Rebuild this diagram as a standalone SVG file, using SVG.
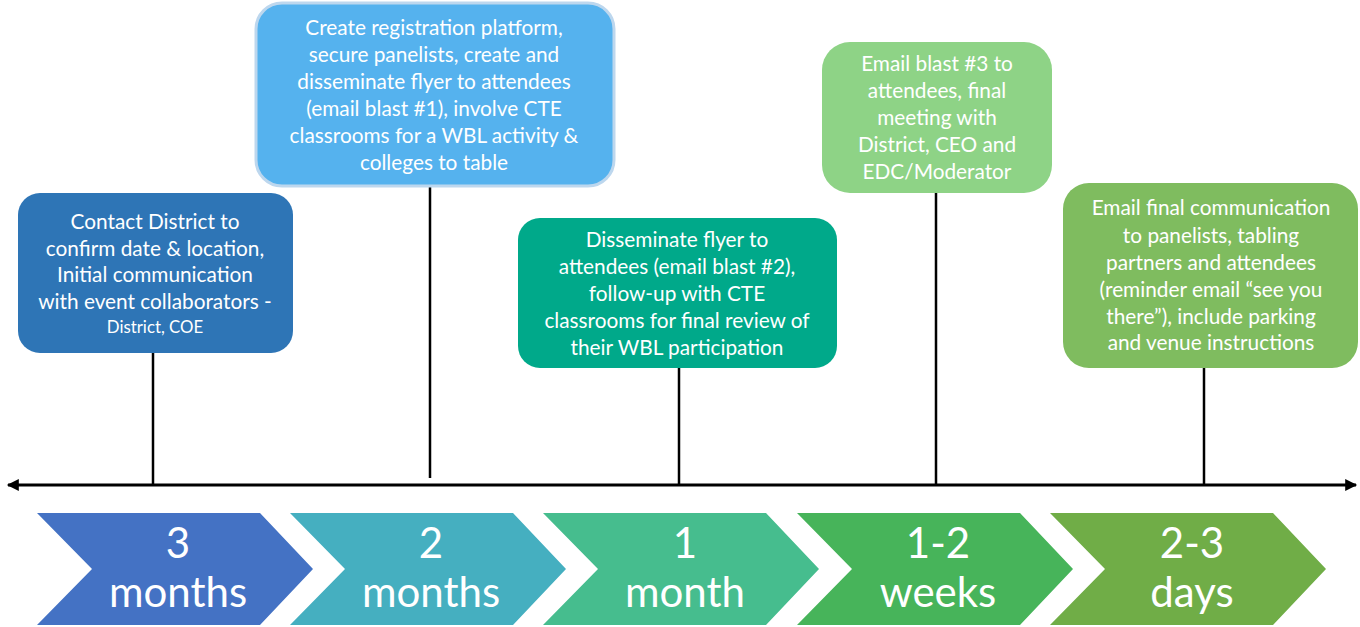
<svg xmlns="http://www.w3.org/2000/svg" width="1360" height="627" viewBox="0 0 1360 627">
<defs>
<marker id="ah" viewBox="0 0 10 10" refX="9" refY="5" markerWidth="4.5" markerHeight="4" orient="auto-start-reverse" markerUnits="strokeWidth">
<path d="M0,0 L10,5 L0,10 z" fill="#000"/>
</marker>
<style>
.bt{font-family:Lato,"Liberation Sans",sans-serif;font-size:20.8px;fill:#ffffff;text-anchor:middle}
.sm{font-size:16.8px}
.ct{font-family:Lato,"Liberation Sans",sans-serif;font-size:42px;fill:#ffffff;text-anchor:middle}
.ln{stroke:#000;stroke-width:2.5;fill:none}
</style>
</defs>
<rect width="1360" height="627" fill="#fff"/>
<g id="connectors">
<line class="ln" x1="153" y1="353" x2="153" y2="485"/>
<line class="ln" x1="430" y1="187" x2="430" y2="478"/>
<line class="ln" x1="679" y1="368" x2="679" y2="485"/>
<line class="ln" x1="936" y1="193" x2="936" y2="485"/>
<line class="ln" x1="1204" y1="368" x2="1204" y2="485"/>
<line x1="8" y1="485" x2="1356" y2="485" stroke="#000" stroke-width="3" marker-start="url(#ah)" marker-end="url(#ah)"/>
</g>
<g id="box1">
<rect x="18" y="193" width="275" height="160" rx="22" fill="#2E75B6"/>
<text class="bt" x="155" y="229">Contact District to</text>
<text class="bt" x="155" y="256">confirm date &amp; location,</text>
<text class="bt" x="155" y="282">Initial communication</text>
<text class="bt" x="155" y="309">with event collaborators -</text>
<text class="bt sm" x="155" y="333">District, COE</text>
</g>
<g id="box2">
<rect x="256" y="3" width="358" height="183" rx="26" fill="#55B2EE" stroke="#BDD7EE" stroke-width="3"/>
<text class="bt" x="434" y="35">Create registration platform,</text>
<text class="bt" x="434" y="62">secure panelists, create and</text>
<text class="bt" x="434" y="89">disseminate flyer to attendees</text>
<text class="bt" x="434" y="116">(email blast #1), involve CTE</text>
<text class="bt" x="434" y="143">classrooms for a WBL activity &amp;</text>
<text class="bt" x="434" y="170">colleges to table</text>
</g>
<g id="box3">
<rect x="518" y="218" width="319" height="150" rx="22" fill="#00A98A"/>
<text class="bt" x="677" y="247">Disseminate flyer to</text>
<text class="bt" x="677" y="274">attendees (email blast #2),</text>
<text class="bt" x="677" y="301">follow-up with CTE</text>
<text class="bt" x="677" y="328">classrooms for final review of</text>
<text class="bt" x="677" y="355">their WBL participation</text>
</g>
<g id="box4">
<rect x="822" y="42" width="230" height="151" rx="28" fill="#8ED386"/>
<text class="bt" x="937" y="71">Email blast #3 to</text>
<text class="bt" x="937" y="98">attendees, final</text>
<text class="bt" x="937" y="125">meeting with</text>
<text class="bt" x="937" y="152">District, CEO and</text>
<text class="bt" x="937" y="179">EDC/Moderator</text>
</g>
<g id="box5">
<rect x="1063" y="183" width="295" height="185" rx="26" fill="#7FBC5F"/>
<text class="bt" x="1211" y="215">Email final communication</text>
<text class="bt" x="1211" y="243">to panelists, tabling</text>
<text class="bt" x="1211" y="270">partners and attendees</text>
<text class="bt" x="1211" y="297">(reminder email “see you</text>
<text class="bt" x="1211" y="324">there”), include parking</text>
<text class="bt" x="1211" y="350">and venue instructions</text>
</g>
<g id="chev1">
<polygon points="37,513 260,513 313,569 260,625 37,625 92,569" fill="#4472C4"/>
<text class="ct" x="178" y="558">3</text>
<text class="ct" x="178" y="607">months</text>
</g>
<g id="chev2">
<polygon points="290,513 513,513 566,569 513,625 290,625 345,569" fill="#45AFC0"/>
<text class="ct" x="431" y="558">2</text>
<text class="ct" x="431" y="607">months</text>
</g>
<g id="chev3">
<polygon points="543,513 766,513 819,569 766,625 543,625 598,569" fill="#46BD8E"/>
<text class="ct" x="685" y="558">1</text>
<text class="ct" x="685" y="607">month</text>
</g>
<g id="chev4">
<polygon points="797,513 1020,513 1073,569 1020,625 797,625 852,569" fill="#47B45A"/>
<text class="ct" x="938" y="558">1-2</text>
<text class="ct" x="938" y="607">weeks</text>
</g>
<g id="chev5">
<polygon points="1050,513 1273,513 1326,569 1273,625 1050,625 1105,569" fill="#70AD47"/>
<text class="ct" x="1192" y="558">2-3</text>
<text class="ct" x="1192" y="607">days</text>
</g>
</svg>
